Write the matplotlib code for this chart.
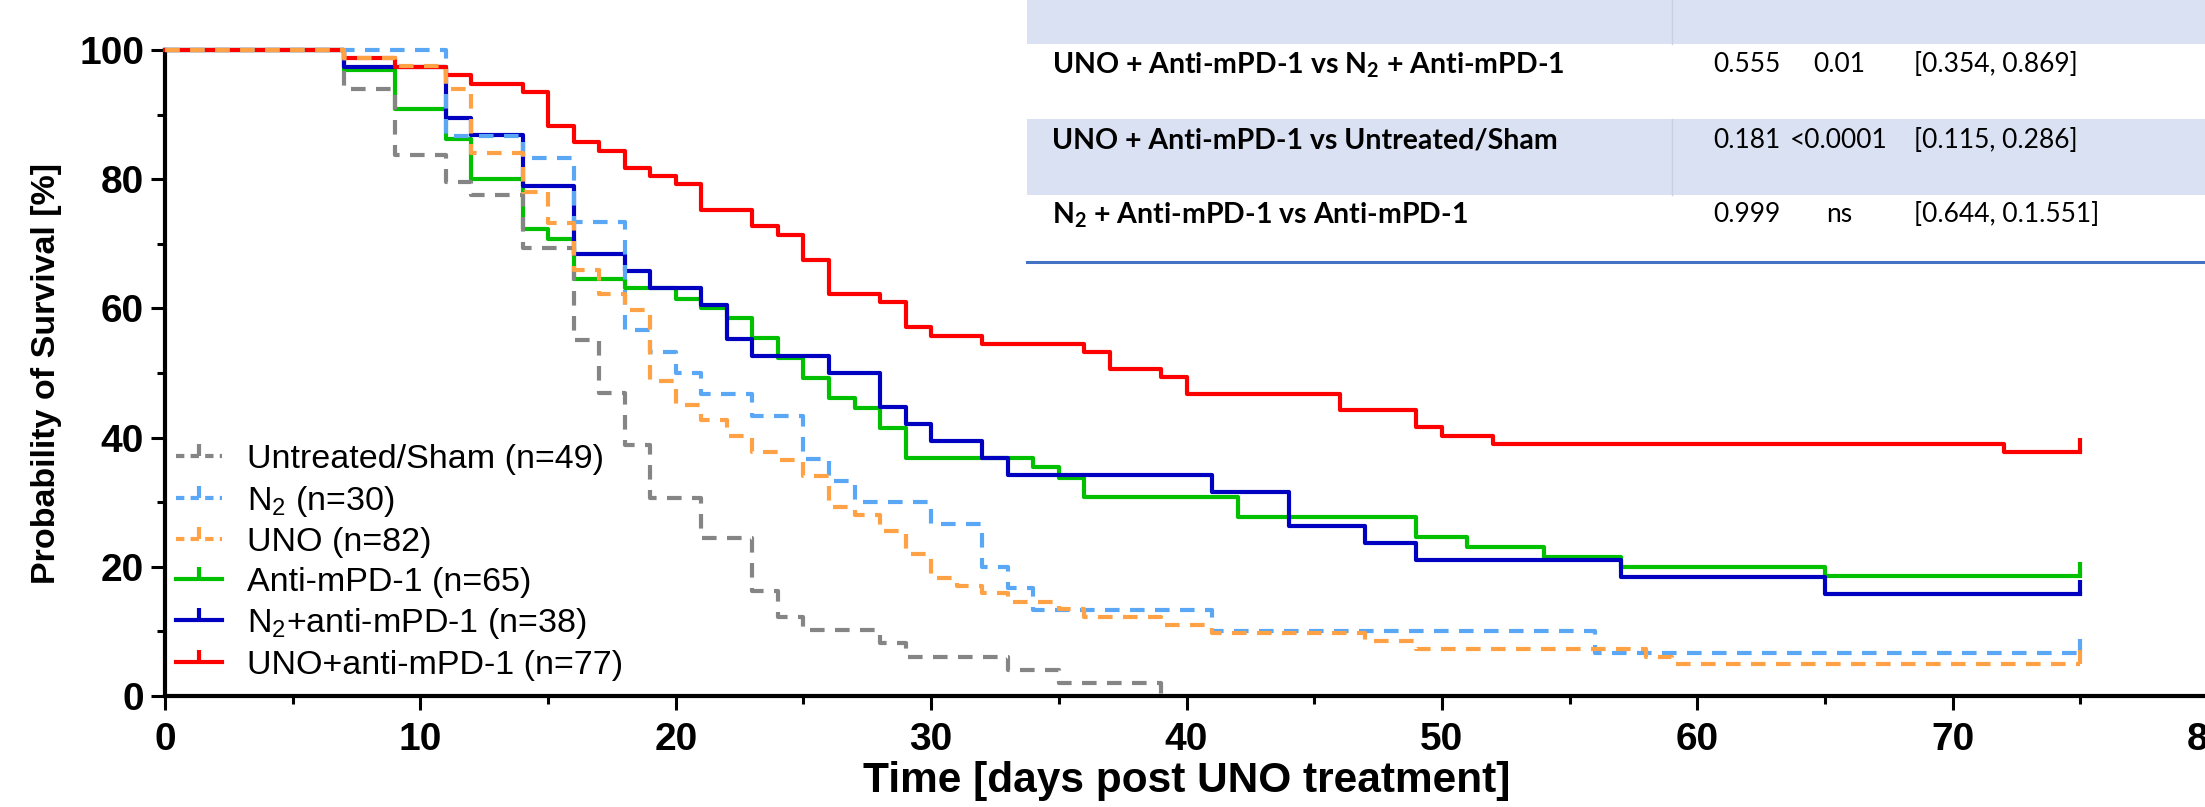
import matplotlib
matplotlib.use('Agg')
import matplotlib.pyplot as plt
from matplotlib.lines import Line2D
from matplotlib.patches import Rectangle

plt.rcParams['font.family'] = ['Liberation Sans', 'DejaVu Sans']
plt.rcParams['mathtext.default'] = 'regular'

# Kaplan-Meier steps: day of each step, survival [%] after it
sham_days = [0, 7, 9, 11, 12, 14, 16, 17, 18, 19, 21, 23, 24, 25, 28, 29, 33, 35, 39]
sham_surv = [100, 93.9, 83.7, 79.6, 77.6, 69.4, 55.1, 46.9, 38.8, 30.6, 24.5, 16.3, 12.2, 10.2, 8.2, 6.1, 4.1, 2.0, 0]

n2_days = [0, 11, 14, 16, 18, 19, 20, 21, 23, 25, 26, 27, 30, 32, 33, 34, 41, 56, 75]
n2_surv = [100, 86.7, 83.3, 73.3, 56.7, 53.3, 50.0, 46.7, 43.3, 36.7, 33.3, 30.0, 26.7, 20.0, 16.7, 13.3, 10.0, 6.7, 6.7]

uno_days = [0, 7, 9, 11, 12, 14, 15, 16, 17, 18, 19, 20, 21, 22, 23, 24, 25, 26, 27, 28, 29, 30,
            31, 32, 33, 35, 36, 39, 41, 47, 49, 58, 59, 75]
uno_surv = [100, 98.8, 97.6, 93.9, 84.1, 78.0, 73.2, 65.9, 62.2, 59.8, 48.8, 45.1, 42.7, 40.2, 37.8,
            36.6, 34.1, 29.3, 28.0, 25.6, 22.0, 18.3, 17.1, 15.9, 14.6, 13.4, 12.2, 11.0, 9.8, 8.5,
            7.3, 6.1, 4.9, 4.9]

apd1_days = [0, 7, 9, 11, 12, 14, 15, 16, 18, 20, 21, 22, 23, 24, 25, 26, 27, 28, 29, 34, 35, 36,
             42, 49, 51, 54, 57, 65, 75]
apd1_surv = [100, 96.9, 90.8, 86.2, 80.0, 72.3, 70.8, 64.6, 63.1, 61.5, 60.0, 58.5, 55.4, 52.3,
             49.2, 46.2, 44.6, 41.5, 36.9, 35.4, 33.8, 30.8, 27.7, 24.6, 23.1, 21.5, 20.0, 18.5, 18.5]

n2apd1_days = [0, 7, 11, 12, 14, 16, 18, 19, 21, 22, 23, 26, 28, 29, 30, 32, 33, 41, 44, 47, 49, 57, 65, 75]
n2apd1_surv = [100, 97.4, 89.5, 86.8, 78.9, 68.4, 65.8, 63.2, 60.5, 55.3, 52.6, 50.0, 44.7, 42.1,
               39.5, 36.8, 34.2, 31.6, 26.3, 23.7, 21.1, 18.4, 15.8, 15.8]

unoapd1_days = [0, 7, 9, 11, 12, 14, 15, 16, 17, 18, 19, 20, 21, 23, 24, 25, 26, 28, 29, 30, 32,
                36, 37, 39, 40, 46, 49, 50, 52, 72, 75]
unoapd1_surv = [100, 98.7, 97.4, 96.1, 94.8, 93.5, 88.3, 85.7, 84.4, 81.8, 80.5, 79.2, 75.3, 72.7,
                71.4, 67.5, 62.3, 61.0, 57.1, 55.8, 54.5, 53.2, 50.6, 49.4, 46.8, 44.2, 41.6, 40.3,
                39.0, 37.7, 37.7]

labels = ['Untreated/Sham (n=49)', 'N$_2$ (n=30)', 'UNO (n=82)',
          'Anti-mPD-1 (n=65)', 'N$_2$+anti-mPD-1 (n=38)', 'UNO+anti-mPD-1 (n=77)']
colors = ['#858585', '#5aa8f5', '#ffa245', '#00c000', '#0000c0', '#ff0000']

# hazard ratio table
tbl_rows = ['UNO + Anti-mPD-1 vs N$_2$ + Anti-mPD-1',
            'UNO + Anti-mPD-1 vs Untreated/Sham',
            'N$_2$ + Anti-mPD-1 vs Anti-mPD-1']
tbl_hr = ['0.555', '0.181', '0.999']
tbl_p = ['0.01', '<0.0001', 'ns']
tbl_ci = ['[0.354, 0.869]', '[0.115, 0.286]', '[0.644, 0.1.551]']

W, H = 2205, 807
fig = plt.figure(figsize=(W / 100, H / 100), dpi=100)
ax = fig.add_axes([165 / W, 111 / H, 2043 / W, 646 / H])

series = [(sham_days, sham_surv), (n2_days, n2_surv), (uno_days, uno_surv),
          (apd1_days, apd1_surv), (n2apd1_days, n2apd1_surv), (unoapd1_days, unoapd1_surv)]
dashed = [True, True, True, False, False, False]
zorders = [5, 6, 7, 2, 3, 4]

for (d, s), c, dsh, z in zip(series, colors, dashed, zorders):
    ls = (0, (3.5, 2.5)) if dsh else '-'
    ax.step(d, s, where='post', color=c, lw=3, ls=ls, zorder=z, clip_on=False)
    if s[-1] > 0:
        # censor tick at the end of follow-up
        ax.plot(d[-1], s[-1], marker=2, ms=10, mew=3, color=c, zorder=z, clip_on=False)

ax.set_xlim(0, 80)
ax.set_ylim(0, 100)
ax.set_xticks(range(0, 81, 10))
ax.set_xticks(range(5, 80, 10), minor=True)
ax.set_yticks(range(0, 101, 20))
ax.set_yticks(range(10, 100, 20), minor=True)
for sp in ['top', 'right']:
    ax.spines[sp].set_visible(False)
for sp in ['left', 'bottom']:
    ax.spines[sp].set_linewidth(3)
ax.tick_params(which='major', length=10, width=2.2, labelsize=28, pad=5)
ax.tick_params(axis='x', which='major', pad=9)
ax.tick_params(which='minor', length=6, width=2.2)
for t in ax.get_xticklabels() + ax.get_yticklabels():
    t.set_fontweight('bold')
ax.set_xlabel('Time [days post UNO treatment]', fontsize=30.5, fontweight='bold', labelpad=2)
ax.set_ylabel('Probability of Survival [%]', fontsize=24.5, fontweight='bold', labelpad=12)

handles = []
for c, dsh in zip(colors, dashed):
    handles.append(Line2D([], [], color=c, lw=3, ls=(0, (2, 1.5)) if dsh else '-',
                          marker=2, ms=9, mew=3))
ax.legend(handles, labels, loc='upper left', bbox_to_anchor=(176 / W, 1 - 444 / H),
          bbox_transform=fig.transFigure, frameon=False, fontsize=24.5, borderpad=0,
          borderaxespad=0, handlelength=1.35, handletextpad=0.75, labelspacing=0.25)

# overlay in pixel coordinates for the table
ov = fig.add_axes([0, 0, 1, 1], zorder=10)
ov.set_xlim(0, W)
ov.set_ylim(H, 0)
ov.axis('off')
ov.patch.set_alpha(0)

shade = '#d9e1f2'
ov.add_patch(Rectangle((1027, 0), W - 1027, 262, fc='white', ec='none'))
ov.add_patch(Rectangle((1027, 0), W - 1027, 44, fc=shade, ec='none'))
ov.add_patch(Rectangle((1027, 119), W - 1027, 76, fc=shade, ec='none'))
ov.plot([1672, 1672], [0, 44], color='#c8d2e6', lw=1)
ov.plot([1672, 1672], [119, 195], color='#c8d2e6', lw=1)
ov.plot([1027, W], [262, 262], color='#4472c4', lw=2.2)

row_y = [65, 140, 215]
for y, lab, hr, p, ci in zip(row_y, tbl_rows, tbl_hr, tbl_p, tbl_ci):
    ov.text(1052, y, lab, fontsize=20.5, fontweight='bold', family=['Lato', 'DejaVu Sans'],
            va='center', ha='left')
    ov.text(1747, y, hr, fontsize=19, family=['Lato', 'DejaVu Sans'], va='center', ha='center')
    ov.text(1839, y, p, fontsize=19, family=['Lato', 'DejaVu Sans'], va='center', ha='center')
    ov.text(1914, y, ci, fontsize=19, family=['Lato', 'DejaVu Sans'], va='center', ha='left')

fig.savefig('out.png', dpi=100)
